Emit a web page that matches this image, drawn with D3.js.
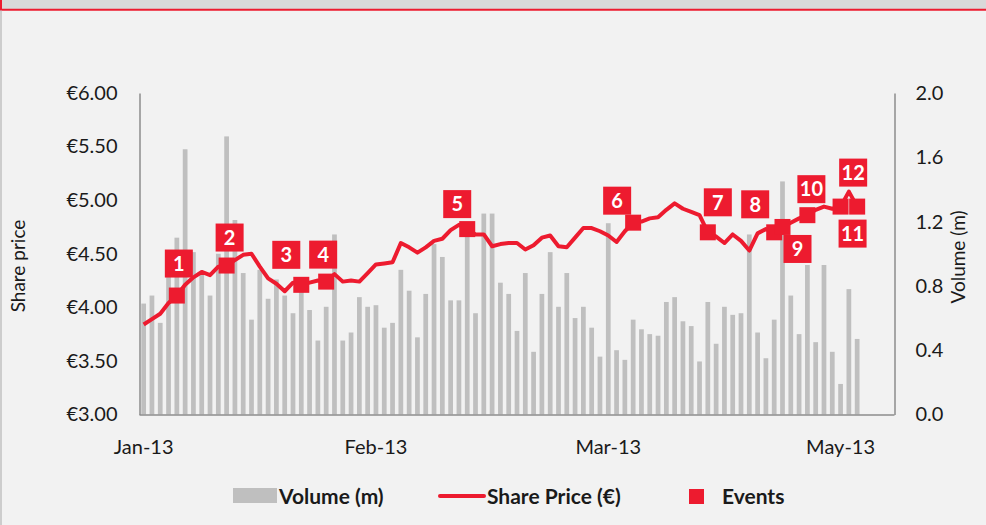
<!DOCTYPE html>
<html>
<head>
    <title>Share price and volume</title>
    <meta charset="utf-8">
    <script src="https://cdn.jsdelivr.net/npm/d3@7"></script>
    <style>
        html, body { margin: 0; padding: 0; background: #f2f2f2; }
        svg { display: block; font-family: Lato, "Open Sans", sans-serif; }
        .axis text { font-family: Lato, "Open Sans", sans-serif; font-size: 20px; fill: #1a1a1a; }
        .axis path { stroke: #8c8c8c; stroke-width: 1.5px; }
        .legend text { font-size: 21px; font-weight: bold; fill: #1a1a1a; }
    </style>
</head>
<body>
<svg id="chart" width="986" height="525"></svg>
<script>
// daily volume in millions (one bar per trading day)
var volume = [
    0.69, 0.74, 0.57, 0.86, 1.10, 1.65, 1.01, 0.88, 0.74, 1.00,
    1.73, 1.21, 0.88, 0.59, 0.90, 0.72, 0.84, 0.74, 0.63, 0.82,
    0.65, 0.46, 0.67, 1.12, 0.46, 0.51, 0.73, 0.67, 0.68, 0.54,
    0.57, 0.90, 0.77, 0.48, 0.75, 1.06, 0.98, 0.71, 0.71, 1.15,
    0.63, 1.25, 1.25, 0.82, 0.75, 0.52, 0.88, 0.39, 0.75, 1.01,
    0.67, 0.88, 0.60, 0.67, 0.54, 0.36, 1.19, 0.40, 0.34, 0.59,
    0.53, 0.50, 0.49, 0.70, 0.73, 0.58, 0.55, 0.33, 0.70, 0.44,
    0.67, 0.62, 0.63, 1.12, 0.51, 0.35, 0.59, 1.45, 0.74, 0.50,
    0.93, 0.45, 0.93, 0.39, 0.19, 0.78, 0.47
];

// closing share price in euro
var price = [
    3.84, 3.89, 3.94, 4.04, 4.11, 4.21, 4.28, 4.33, 4.30, 4.38,
    4.39, 4.44, 4.49, 4.50, 4.38, 4.27, 4.22, 4.15, 4.23, 4.21,
    4.23, 4.25, 4.24, 4.31, 4.24, 4.25, 4.24, 4.32, 4.40, 4.41,
    4.42, 4.60, 4.56, 4.51, 4.56, 4.62, 4.64, 4.72, 4.77, 4.73,
    4.68, 4.68, 4.57, 4.59, 4.60, 4.60, 4.54, 4.58, 4.65, 4.67,
    4.57, 4.56, 4.65, 4.74, 4.74, 4.71, 4.67, 4.61, 4.71, 4.79,
    4.80, 4.83, 4.84, 4.91, 4.97, 4.92, 4.89, 4.86, 4.70, 4.66,
    4.60, 4.68, 4.62, 4.53, 4.69, 4.73, 4.70, 4.75, 4.79, 4.83,
    4.86, 4.91, 4.94, 4.92, 4.94, 5.08, 4.94
];

// trading day index of each numbered event
var eventDays = [4, 10, 19, 22, 39, 59, 68, 76, 77, 80, 84, 86];
var eventNames = ["1", "2", "3", "4", "5", "6", "7", "8", "9", "10", "11", "12"];

// x axis: 91 trading day slots, labelled every 28 days
var dayCount = 91;
var tickDays = [0, 28, 56, 84];
var tickLabels = ["Jan-13", "Feb-13", "Mar-13", "May-13"];

var priceTicks = [3, 3.5, 4, 4.5, 5, 5.5, 6];
var volumeTicks = [0, 0.4, 0.8, 1.2, 1.6, 2.0];

// where each event label box sits relative to its marker (layout only)
var labelShift = [[2, -32], [3, -28], [-15, -30], [-3, -27], [-10, -25], [-16, -22],
                  [10, -30], [-19, -28], [15, 22], [4, -26], [12, 27], [-4, -34]];

var red = "#ed1b2f";
var grey = "#bfbfbf";

var svg = d3.select("#chart");

// frame at the top
svg.append("rect").attr("x", 0).attr("y", 0).attr("width", 986).attr("height", 9.5).attr("fill", "#d9d9d9");
svg.append("line").attr("x1", 0).attr("x2", 986).attr("y1", 9.8).attr("y2", 9.8)
    .attr("stroke", red).attr("stroke-width", 2);
svg.append("line").attr("x1", 1).attr("x2", 1).attr("y1", 0).attr("y2", 10)
    .attr("stroke", red).attr("stroke-width", 2);
svg.append("line").attr("x1", 1).attr("x2", 1).attr("y1", 10.5).attr("y2", 525)
    .attr("stroke", "#c0c0c0").attr("stroke-width", 1.5);

var plotL = 139.5, plotR = 894.5, plotT = 93, plotB = 414.5;

var x = d3.scaleBand()
    .domain(d3.range(dayCount))
    .range([plotL, plotR])
    .paddingInner(0.43)
    .paddingOuter(0.215);

var yPrice = d3.scaleLinear().domain([3, 6]).range([plotB, plotT]);
var yVol = d3.scaleLinear().domain([0, 2]).range([plotB, plotT]);

function cx(i) { return x(i) + x.bandwidth() / 2; }

// volume bars
svg.append("g")
    .selectAll("rect")
    .data(volume)
    .enter()
    .append("rect")
    .attr("x", function (d, i) { return x(i); })
    .attr("y", function (d) { return yVol(d); })
    .attr("width", x.bandwidth())
    .attr("height", function (d) { return yVol(0) - yVol(d); })
    .attr("fill", grey);

// axes
svg.append("g").attr("class", "axis")
    .attr("transform", "translate(" + plotL + ",0)")
    .call(d3.axisLeft(yPrice).tickValues(priceTicks)
        .tickFormat(function (d) { return "€" + d.toFixed(2); })
        .tickSize(0).tickPadding(22));

svg.append("g").attr("class", "axis")
    .attr("transform", "translate(" + plotR + ",0)")
    .call(d3.axisRight(yVol).tickValues(volumeTicks)
        .tickFormat(d3.format(".1f"))
        .tickSize(0).tickPadding(21));

var gBottom = svg.append("g").attr("class", "axis")
    .attr("transform", "translate(0," + (plotB + 0.5) + ")")
    .call(d3.axisBottom(x).tickValues(tickDays)
        .tickFormat(function (d) { return tickLabels[tickDays.indexOf(d)]; })
        .tickSize(0).tickPadding(25));
gBottom.select(".domain").attr("d", "M" + plotL + ",0H" + plotR);

// axis titles
svg.append("text")
    .attr("transform", "translate(25,266) rotate(-90)")
    .attr("text-anchor", "middle")
    .attr("font-size", 19)
    .attr("fill", "#1a1a1a")
    .text("Share price");

svg.append("text")
    .attr("transform", "translate(965,257) rotate(-90)")
    .attr("text-anchor", "middle")
    .attr("font-size", 19)
    .attr("fill", "#1a1a1a")
    .text("Volume (m)");

// share price line
var line = d3.line()
    .x(function (d, i) { return cx(i); })
    .y(function (d) { return yPrice(d); });

svg.append("path")
    .datum(price)
    .attr("d", line)
    .attr("fill", "none")
    .attr("stroke", red)
    .attr("stroke-width", 4)
    .attr("stroke-linejoin", "round");

// event markers
svg.append("g")
    .selectAll("rect")
    .data(eventDays)
    .enter()
    .append("rect")
    .attr("x", function (d) { return cx(d) - 8; })
    .attr("y", function (d) { return yPrice(price[d]) - 8; })
    .attr("width", 16)
    .attr("height", 16)
    .attr("fill", red);

// event number labels
var labels = svg.append("g")
    .selectAll("g")
    .data(eventDays)
    .enter()
    .append("g")
    .attr("transform", function (d, i) {
        return "translate(" + (cx(d) + labelShift[i][0]) + "," + (yPrice(price[d]) + labelShift[i][1]) + ")";
    });

labels.append("rect")
    .attr("x", -14).attr("y", -14)
    .attr("width", 28).attr("height", 28)
    .attr("fill", red);

labels.append("text")
    .attr("text-anchor", "middle")
    .attr("dy", "0.36em")
    .attr("font-size", 20)
    .attr("font-weight", "bold")
    .attr("fill", "#ffffff")
    .text(function (d, i) { return eventNames[i]; });

// legend
var legend = svg.append("g").attr("class", "legend");
legend.append("rect").attr("x", 233).attr("y", 488).attr("width", 44).attr("height", 15).attr("fill", grey);
legend.append("text").attr("x", 279).attr("y", 504).text("Volume (m)");
legend.append("line").attr("x1", 440).attr("x2", 484).attr("y1", 496).attr("y2", 496)
    .attr("stroke", red).attr("stroke-width", 4).attr("stroke-linecap", "round");
legend.append("text").attr("x", 487).attr("y", 504).text("Share Price (€)");
legend.append("rect").attr("x", 689).attr("y", 489).attr("width", 15).attr("height", 15).attr("fill", red);
legend.append("text").attr("x", 722).attr("y", 504).text("Events");
</script>
</body>
</html>
